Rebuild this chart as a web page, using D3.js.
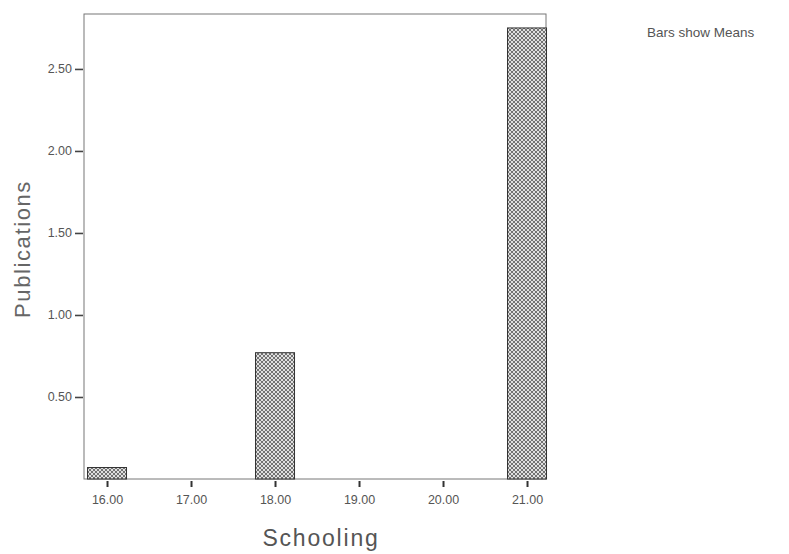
<!DOCTYPE html>
<html><head><meta charset="utf-8">
<script src="https://cdn.jsdelivr.net/npm/d3@7/dist/d3.min.js"></script>
<style>body{margin:0;background:#fff}svg{display:block;font-family:"Liberation Sans",Arial,sans-serif}</style>
</head><body><svg id="c" width="789" height="554"></svg>
<script>
const categories = [16, 17, 18, 19, 20, 21];
const means = [0.07, 0, 0.77, 0, 0, 2.75];
const yTicks = [0.5, 1.0, 1.5, 2.0, 2.5];
const xTickLabels = ["16.00","17.00","18.00","19.00","20.00","21.00"];

const svg = d3.select("#c");
const L=84, R=546, T=14, B=479;
const x = d3.scaleLinear().domain([15.726, 21.226]).range([L, R]);
const y = d3.scaleLinear().domain([0, 2.835]).range([B, T]);
const barW = 39;

const defs = svg.append("defs");
const pat = defs.append("pattern").attr("id","hatch").attr("patternUnits","userSpaceOnUse")
  .attr("width",4).attr("height",4);
pat.append("rect").attr("width",4).attr("height",4).attr("fill","#e0e0e0");
pat.append("path").attr("d","M0,0L4,4M4,0L0,4").attr("stroke","#666").attr("stroke-width",0.9);

// plot frame
svg.append("rect").attr("x",L).attr("y",T).attr("width",R-L).attr("height",B-T)
  .attr("fill","none").attr("stroke","#777").attr("stroke-width",1);

// bars
svg.selectAll("rect.bar").data(categories.map((c,i)=>({c,v:means[i]})).filter(d=>d.v>0))
  .enter().append("rect").attr("class","bar")
  .attr("x",d=>x(d.c)-barW/2).attr("width",barW)
  .attr("y",d=>y(d.v)).attr("height",d=>y(0)-y(d.v))
  .attr("fill","url(#hatch)").attr("stroke","#333").attr("stroke-width",1);

// y axis
const ya = svg.append("g").attr("transform",`translate(${L},0)`)
  .call(d3.axisLeft(y).tickValues(yTicks).tickFormat(d3.format(".2f")).tickSize(8).tickPadding(4));
ya.select(".domain").remove();
ya.selectAll("line").attr("stroke","#444").attr("stroke-width",1.6).attr("transform","translate(-1,0)");
ya.selectAll("text").attr("fill","#555").attr("font-size",12.5).attr("font-family","Liberation Sans, Arial, sans-serif");

// x axis
const xa = svg.append("g").attr("transform",`translate(0,${B+2})`)
  .call(d3.axisBottom(x).tickValues(categories).tickFormat((d,i)=>xTickLabels[i]).tickSize(6).tickPadding(8));
xa.select(".domain").remove();
xa.selectAll("line").attr("stroke","#333").attr("stroke-width",2);
xa.selectAll("text").attr("fill","#555").attr("font-size",12.5).attr("font-family","Liberation Sans, Arial, sans-serif");

// titles
svg.append("text").attr("transform","translate(30,249) rotate(-90)").attr("text-anchor","middle")
  .attr("fill","#666").attr("font-size",22).attr("letter-spacing",1.6).text("Publications");
svg.append("text").attr("x",321).attr("y",546).attr("text-anchor","middle")
  .attr("fill","#555").attr("font-size",23).attr("letter-spacing",1.8).text("Schooling");
svg.append("text").attr("x",647).attr("y",37)
  .attr("fill","#555").attr("font-size",13.5).text("Bars show Means");
</script></body></html>
